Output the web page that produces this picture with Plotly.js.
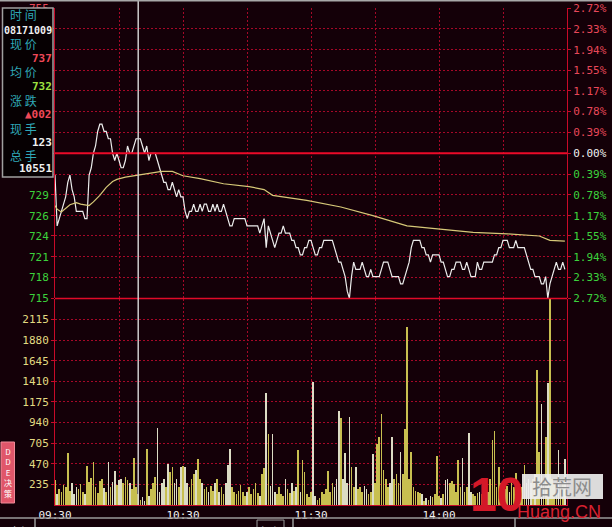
<!DOCTYPE html>
<html><head><meta charset="utf-8">
<script src="https://cdn.plot.ly/plotly-3.0.1.min.js"></script>
<style>html,body{margin:0;padding:0;background:#140008;overflow:hidden}</style>
</head><body><div id="chart" style="width:612px;height:527px"></div>
<script>
// ---------------- data ----------------
const prevClose = 735;           // 昨收 (0.00% line), price in 0.01 units
const cursorIndex = 39;          // minute of the white cursor line (10:09)

// per-minute price, 240 minutes
const price = [
 732,725,726,727,728,729,731,732,730,729,
 727,727,727,727,726,726,732,733,735,736,
 738,739,739,738,738,737,737,735,734,735,
 734,733,733,734,736,735,735,736,737,737,
 737,736,735,736,734,735,735,735,734,733,
 732,731,731,730,730,731,730,729,730,729,
 729,727,726,727,727,728,727,727,728,727,
 728,728,727,727,728,727,728,727,727,728,
 727,726,725,725,726,726,726,726,726,726,
 725,725,725,725,725,725,724,725,726,722,
 725,724,723,722,723,724,724,725,724,724,
 724,723,723,722,722,721,721,722,722,723,
 723,722,721,721,722,722,723,723,723,723,
 723,722,721,720,720,719,718,716,715,718,
 720,719,719,719,720,719,718,718,719,718,
 718,718,718,719,720,720,720,719,718,718,
 718,718,717,717,718,719,720,722,723,723,
 723,723,722,722,721,721,720,721,721,721,
 721,720,720,719,718,718,719,719,720,720,
 720,719,719,720,719,718,718,718,720,719,
 719,720,720,720,720,720,721,721,722,722,
 723,723,723,722,722,722,723,722,722,722,
 722,721,720,719,719,718,718,718,717,717,
 718,715,717,718,719,720,719,719,720,719
];

// average-price line (minute, value)
const avgMinute = [0,1,3,7,10,12,16,18,21,24,27,29,33,41,50,55,60,68,79,91,98,102,118,134,149,165,180,196,212,227,232,239];
const avgPrice  = [727.8,727.3,726.9,727.9,728.2,728.0,727.8,728.3,729.2,730.3,731.1,731.4,731.7,732.1,732.5,732.5,731.9,731.5,730.8,730.4,730.0,729.2,728.5,727.6,726.4,725.0,724.6,724.1,723.9,723.6,723.0,722.9];

// per-minute volume (手)
const volume = [
 280,120,180,150,230,200,593,160,250,130,
 210,180,240,150,120,445,260,310,490,200,
 140,270,300,190,150,490,200,260,388,230,
 280,300,250,320,290,250,180,536,210,123,
 60,90,50,638,100,180,250,320,878,150,
 250,300,200,467,380,433,250,300,200,430,
 440,430,250,200,300,350,400,524,300,250,
 180,200,150,220,160,250,300,150,200,120,
 250,456,638,200,150,120,160,230,150,100,
 150,200,120,180,250,140,100,350,420,1277,
 809,220,809,150,120,200,130,100,300,180,
 140,250,160,200,627,150,513,380,120,90,
 150,1402,100,60,80,150,120,180,388,150,
 250,200,300,1072,992,300,593,250,1003,433,
 200,433,180,200,150,220,180,120,150,581,
 250,695,775,1037,400,300,200,250,775,300,
 350,250,604,350,866,2029,300,604,200,160,
 150,140,120,50,80,60,100,90,120,559,
 100,80,120,280,300,250,270,240,150,513,
 200,536,150,200,821,150,120,100,140,150,
 120,250,200,150,300,741,844,200,433,250,
 200,180,220,150,250,200,365,200,150,200,
 456,250,300,250,300,350,1539,604,1151,300,
 775,1391,2350,300,250,150,627,200,250,520
];

const pctSigned = [-2.72,-2.33,-1.94,-1.55,-1.17,-0.78,-0.39,0,0.39,0.78,1.17,1.55,1.94,2.33,2.72];
const priceTickLabels = ['715','718','721','724','726','729','732','735','738','741','744','746','749','752','755'];
const pctTickLabels = ['2.72%','2.33%','1.94%','1.55%','1.17%','0.78%','0.39%','0.00%','0.39%','0.78%','1.17%','1.55%','1.94%','2.33%','2.72%'];
const volTicks = [235,470,705,940,1175,1410,1645,1880,2115];
const volTickLabels = ['235','470','705','940','1175','1410','1645','1880','2115'];
const timeTickMinutes = [0,60,120,180];
const timeLabels = ['09:30','10:30','11:30','14:00'];

const infoLabels = ['时 间','现 价','均 价','涨 跌','现 手','总 手'];
const infoValues = ['08171009','737','732','▲002','123','10551'];
const statusTexts = ['上证','455657','10987','13592400万','深证','1569090','3641E','7007407万'];

// ---------------- layout helpers ----------------
const W = 612, H = 527, PL = 55, PR = 567, PT = 8, PB = 505;
const px = x => (x - PL) / (PR - PL);
const py = y => (PB - y) / (PB - PT);

const RED = '#e8485a', GREEN = '#3cd23c', WHITE = '#f0f0f0';
const colorFor = p => p > 0 ? RED : (p < 0 ? GREEN : WHITE);
const span = (t, c) => '<span style="color:' + c + '">' + t + '</span>';

const tickPrices = pctSigned.map(p => prevClose * (1 + p / 100));
const yLo = prevClose * (1 - 0.02722), yHi = prevClose * (1 + 0.02722);

// left labels that sit under the info box are not visible in the chart
const coveredByBox = p => p > -0.5 && p < 2.5;

const minutes = price.map((_, i) => i);
const gridMinutes = [];
for (let m = 0; m <= 240; m += 30) gridMinutes.push(m);
const gridText = gridMinutes.map(m => { const k = timeTickMinutes.indexOf(m); return k >= 0 ? timeLabels[k] : ''; });

const barColors = volume.map((_, i) => (i === 0 || price[i] >= price[i - 1]) ? '#c8bf50' : '#dcdcc4');

const GRID = 'rgb(165,8,40)';
const MONO = 'DejaVu Sans Mono, monospace';

const traces = [
  { type: 'bar', x: minutes, y: volume, xaxis: 'x', yaxis: 'y2', width: 0.78,
    marker: { color: barColors, line: { width: 0 } }, hoverinfo: 'skip' },
  { type: 'scatter', mode: 'lines', x: avgMinute, y: avgPrice, xaxis: 'x', yaxis: 'y3',
    line: { color: '#d6c878', width: 1.2 }, hoverinfo: 'skip' },
  { type: 'scatter', mode: 'lines', x: minutes, y: price, xaxis: 'x', yaxis: 'y',
    line: { color: '#ececec', width: 1.2 }, hoverinfo: 'skip' }
];

const shapes = [
  { type: 'line', xref: 'paper', yref: 'y', x0: 0, x1: 1, y0: prevClose, y1: prevClose,
    line: { color: 'rgb(235,10,40)', width: 2 }, layer: 'above' },
  { type: 'line', xref: 'paper', yref: 'paper', x0: 0, x1: 1, y0: py(298.5), y1: py(298.5),
    line: { color: 'rgb(225,10,40)', width: 1.6 }, layer: 'above' },
  { type: 'line', xref: 'x', yref: 'paper', x0: cursorIndex, x1: cursorIndex, y0: 0, y1: py(0),
    line: { color: '#d8d8d8', width: 1.4 }, layer: 'above' },
  { type: 'line', xref: 'paper', yref: 'paper', x0: px(0), x1: px(W), y0: py(0.7), y1: py(0.7),
    line: { color: '#a8a8a8', width: 1.5 } , layer: 'above'},
  { type: 'rect', xref: 'paper', yref: 'paper', x0: px(2.5), x1: px(53), y0: py(8), y1: py(177),
    fillcolor: '#060002', line: { color: '#a0a0a0', width: 1.5 }, layer: 'above' },
  { type: 'rect', xref: 'paper', yref: 'paper', x0: px(1), x1: px(14.5), y0: py(442), y1: py(503),
    fillcolor: '#e0566a', line: { color: '#f08a98', width: 1 }, layer: 'above' },
  { type: 'line', xref: 'paper', yref: 'paper', x0: px(0), x1: px(W), y0: py(518), y1: py(518),
    line: { color: '#9a9a9a', width: 1.5 }, layer: 'above' },
  { type: 'line', xref: 'paper', yref: 'paper', x0: px(35), x1: px(35), y0: py(518), y1: py(H),
    line: { color: '#9a9a9a', width: 1.5 }, layer: 'above' },
  { type: 'line', xref: 'paper', yref: 'paper', x0: px(293), x1: px(293), y0: py(518), y1: py(H),
    line: { color: '#9a9a9a', width: 1.5 }, layer: 'above' },
  { type: 'line', xref: 'paper', yref: 'paper', x0: px(515), x1: px(515), y0: py(518), y1: py(H),
    line: { color: '#9a9a9a', width: 1.5 }, layer: 'above' },
  { type: 'rect', xref: 'paper', yref: 'paper', x0: px(257), x1: px(284), y0: py(520), y1: py(H+2),
    line: { color: '#9a9a9a', width: 1 }, layer: 'above' },
  { type: 'rect', xref: 'paper', yref: 'paper', x0: px(522), x1: px(603), y0: py(474), y1: py(499),
    fillcolor: 'rgba(238,238,238,0.92)', line: { width: 0 }, layer: 'above' }
];

const ann = [];
const A = (text, x, y, opt) => ann.push(Object.assign({ text, xref: 'paper', yref: 'paper', x: px(x), y: py(y),
  showarrow: false, xanchor: 'center', yanchor: 'middle', borderpad: 0 }, opt || {}));

const labelY = [15, 43, 72, 100, 128, 155];
const valueY = [30.5, 58, 86, 115, 142, 168.5];
const valueColor = [WHITE, '#f04858', '#9ee040', '#f04858', WHITE, WHITE];
infoLabels.forEach((t, i) => A(t, 23, labelY[i], { font: { family: 'Noto Sans CJK SC', size: 12, color: '#2fa8b8' } }));
infoValues.forEach((t, i) => A(t, 52.5, valueY[i], { xanchor: 'right',
  font: { family: MONO, size: i === 0 ? 10 : 11, color: valueColor[i], weight: 'bold' } }));

A('D<br>D<br>E<br>决<br>策', 8, 472, { font: { family: 'Noto Sans CJK SC', size: 8, color: '#ffffff' } });

const statusX = [8, 68, 150, 191, 260, 318, 408, 455];
const statusC = ['#c8c8c8', '#40c040', '#40c040', '#e6e0b0', '#c8c8c8', '#40c040', '#e6e0b0', '#e6e0b0'];
statusTexts.forEach((t, i) => A(t, statusX[i], 521.5, { xanchor: 'left', yanchor: 'top',
  font: { family: 'Noto Sans CJK SC', size: 12, color: statusC[i] } }));

A('10', 496, 494, { font: { family: 'Liberation Sans', size: 48, color: '#d41828', weight: 'bold' } });
A('拾荒网', 562, 486.5, { font: { family: 'Noto Sans CJK SC', size: 20, color: '#8c8c8c' } });
A('Huang.CN', 559, 512, { font: { family: 'Liberation Sans', size: 18, color: '#d82030' } });

const axisCommon = { showline: true, linecolor: 'rgb(200,10,40)', linewidth: 1, mirror: true,
  zeroline: false, fixedrange: true, ticks: 'outside', ticklen: 3, tickcolor: 'rgb(200,10,40)',
  gridcolor: GRID, griddash: '2px,2px', gridwidth: 1 };

const layout = {
  width: W, height: H, margin: { l: PL, r: W - PR, t: PT, b: H - PB },
  paper_bgcolor: '#140008', plot_bgcolor: '#140008', showlegend: false, bargap: 0,
  font: { family: MONO },
  xaxis: Object.assign({}, axisCommon, { range: [0, 240], anchor: 'y2', mirror: false,
    tickmode: 'array', tickvals: gridMinutes, ticktext: gridText, ticks: '',
    tickfont: { family: MONO, size: 11, color: WHITE }, showgrid: true }),
  yaxis: Object.assign({}, axisCommon, { domain: [0.4155, 1], range: [yLo, yHi],
    tickmode: 'array', tickvals: tickPrices,
    ticktext: priceTickLabels.map((t, i) => coveredByBox(pctSigned[i]) ? '' : span(t, colorFor(pctSigned[i]))),
    tickfont: { family: MONO, size: 11 }, showgrid: true }),
  yaxis3: { overlaying: 'y', side: 'right', anchor: 'x', range: [yLo, yHi], showgrid: false,
    zeroline: false, showline: false, ticks: 'outside', ticklen: 3, tickcolor: 'rgb(200,10,40)',
    tickmode: 'array', tickvals: tickPrices,
    ticktext: pctTickLabels.map((t, i) => span(t, colorFor(pctSigned[i]))),
    tickfont: { family: MONO, size: 11 }, fixedrange: true },
  yaxis2: Object.assign({}, axisCommon, { domain: [0, 0.4145], range: [0, 2350],
    tickmode: 'array', tickvals: volTicks, ticktext: volTickLabels,
    tickfont: { family: MONO, size: 11, color: '#e2da82' }, showgrid: true }),
  shapes: shapes,
  annotations: ann
};

Plotly.newPlot('chart', traces, layout, { staticPlot: true, displayModeBar: false });
</script>
</body></html>
